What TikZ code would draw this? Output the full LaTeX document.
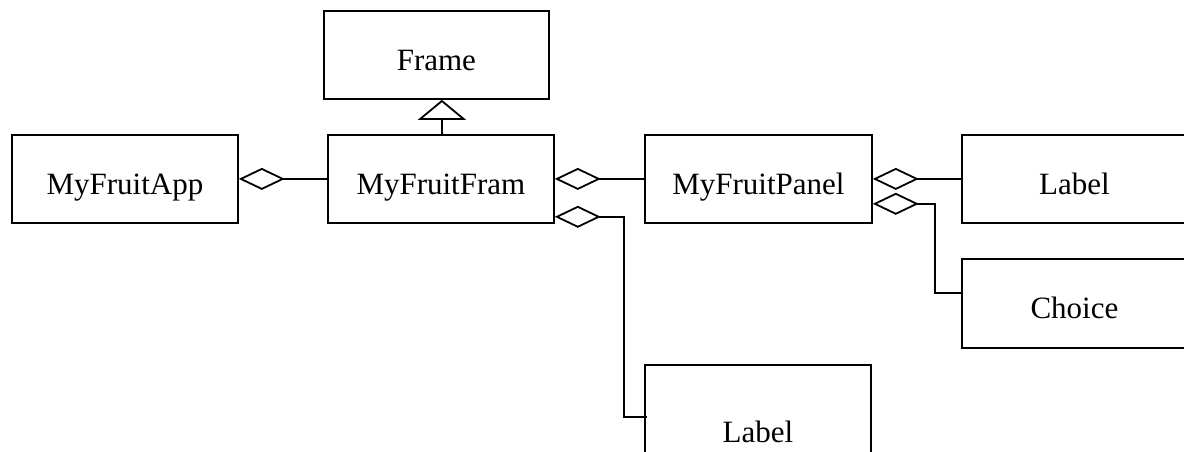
\documentclass[tikz,border=0pt]{standalone}
\usepackage{fontspec}
\setmainfont{Liberation Serif}
\usetikzlibrary{arrows.meta,calc}
\begin{document}
\begin{tikzpicture}[x=1pt,y=-1pt,
  cls/.style={draw,line width=1.8pt,rectangle,inner sep=0pt,minimum width=226pt,
    text height=59.5pt,text depth=28.5pt,font=\fontsize{31}{37}\selectfont,anchor=north west},
  conn/.style={line width=1.8pt},
  agg/.style={conn,{Diamond[open,length=46pt,width=22pt,line width=1.8pt]}-},
  inh/.style={conn,-{Triangle[open,length=20pt,width=48pt,line width=1.8pt]}}]
\useasboundingbox (0,0) rectangle (1184,451);
\clip (0,0) rectangle (1184,451);
\node[cls,minimum width=225pt] (frame) at (323,10) {Frame};
\node[cls] (app) at (11,134) {MyFruitApp};
\node[cls] (fram) at (327,134) {MyFruitFram};
\node[cls,minimum width=227pt] (panel) at (644,134) {MyFruitPanel};
\node[cls,minimum width=225pt] (labelr) at (961,134) {Label};
\node[cls,minimum width=225pt,text height=60pt,text depth=29pt] (choice) at (961,258) {Choice};
\node[cls,text height=78pt,text depth=48pt] (labelb) at (644,364) {Label};
\coordinate (fa) at ($(fram.north)+(1,0)$);
\draw[inh] (fa) -- (fa |- frame.south);
\draw[agg] (app.east) -- (fram.west);
\draw[agg] (fram.east) -- (panel.west);
\draw[agg] (panel.east) -- (labelr.west);
\coordinate (f2) at ($(fram.south east)+(0,-7)$);
\coordinate (lb) at ($(labelb.north west)+(3,53)$);
\draw[agg] (f2) -- ++(69,0) |- (lb);
\coordinate (p2) at ($(panel.south east)+(0,-20)$);
\coordinate (ch) at ($(choice.north west)+(0,35)$);
\draw[agg] (p2) -- ++(62,0) |- (ch);
\end{tikzpicture}
\end{document}
